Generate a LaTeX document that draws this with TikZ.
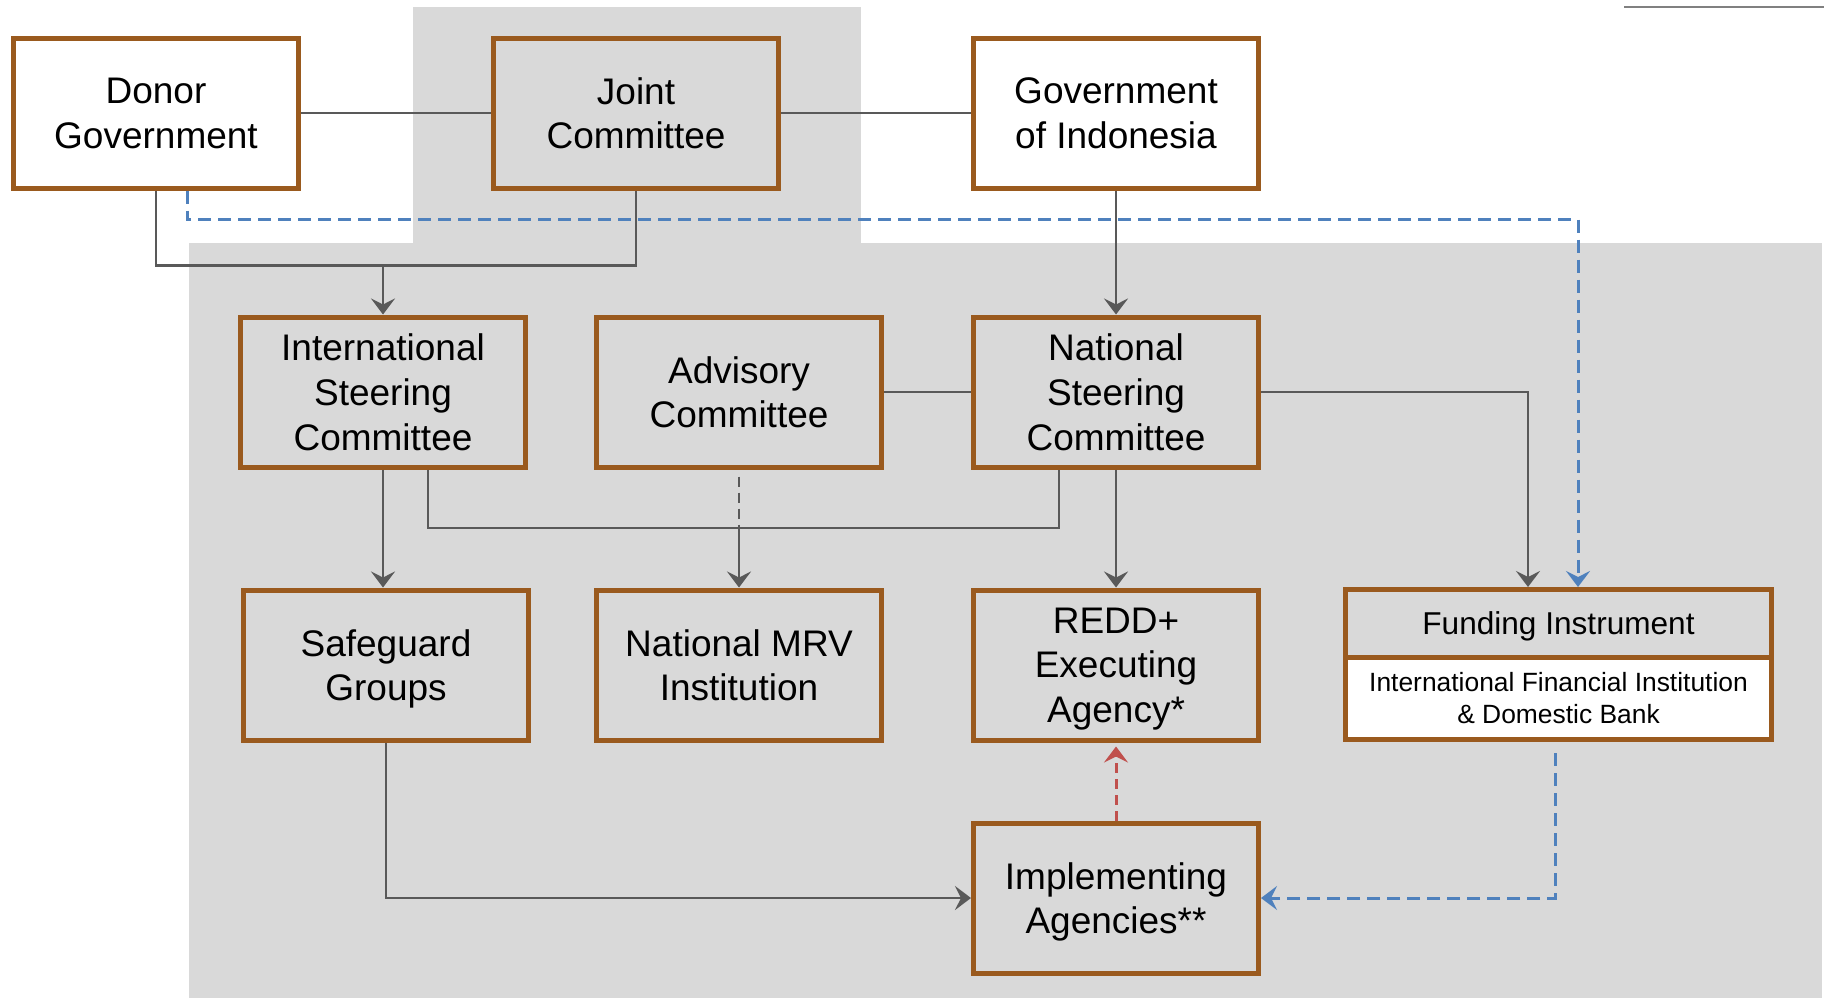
\documentclass[tikz,border=0pt]{standalone}
\usepackage{fontspec}
\setmainfont{Liberation Sans}
\usetikzlibrary{arrows.meta}
\definecolor{brd}{RGB}{154,90,30}
\definecolor{bgg}{RGB}{217,217,217}
\definecolor{cn}{RGB}{89,89,89}
\definecolor{bl}{RGB}{79,129,189}
\definecolor{rd}{RGB}{192,80,77}
\begin{document}
\begin{tikzpicture}[x=0.5pt,y=-0.5pt,
  box/.style={draw=brd, line width=2.5pt, minimum width=142.5pt, minimum height=75pt, align=center, font=\fontsize{18.5}{22.3}\selectfont, inner sep=0pt, text depth=-2pt},
  wbox/.style={box, fill=white},
  gbox/.style={box, fill=bgg},
  tip/.style={-{Stealth[length=8pt,width=12pt,inset=3pt]}},
  conn/.style={draw=cn, line width=1.15pt},
  arr/.style={conn, tip},
  bdash/.style={draw=bl, line width=1.5pt, dash pattern=on 6.5pt off 3.5pt, tip},
  rdash/.style={draw=rd, line width=1.5pt, dash pattern=on 5pt off 3pt, tip},
  gdash/.style={conn, dash pattern=on 5pt off 3pt}
]
\useasboundingbox (0,0) rectangle (1824,998);
% backgrounds
\fill[bgg] (413,7) rectangle (861,243);
\fill[bgg] (189,243) rectangle (1822,998);
\draw[gray, line width=1pt] (1624,7) -- (1824,7);

% nodes
\node[wbox] (donor) at (156,113) {Donor\\Government};
\node[gbox] (joint) at (636,113) {Joint\\Committee};
\node[wbox] (gov) at (1116,113) {Government\\of Indonesia};
\node[gbox] (isc) at (383,392) {International\\Steering\\Committee};
\node[gbox] (adv) at (739,392) {Advisory\\Committee};
\node[gbox] (nsc) at (1116,392) {National\\Steering\\Committee};
\node[gbox] (safe) at (386,665) {Safeguard\\Groups};
\node[gbox] (mrv) at (739,665) {National MRV\\Institution};
\node[gbox] (redd) at (1116,665) {REDD+\\Executing\\Agency*};
\node[gbox] (impl) at (1116,898) {Implementing\\Agencies**};
\node[draw=brd, line width=2.5pt, fill=bgg, minimum width=213pt, minimum height=33.75pt, inner sep=0pt, text depth=-1pt, font=\fontsize{15.8}{19}\selectfont] (fund) at (1558.5,623.25) {Funding Instrument};
\node[draw=brd, line width=2.5pt, fill=white, minimum width=213pt, minimum height=41.25pt, inner sep=0pt, text depth=0pt, align=center, font=\fontsize{13.2}{16}\selectfont] (fib) at (1558.5,698.25) {International Financial Institution\\\& Domestic Bank};

% connectors
\draw[conn] (donor.east) -- (joint.west);
\draw[conn] (joint.east) -- (gov.west);
\coordinate (dj) at (383,267);
\draw[conn] (donor.south) -- ++(0,75) -| (joint.south);
\draw[arr] (dj) -- (isc.north);
\draw[bdash] ([xshift=15.5pt]donor.south) -- ++(0,29) -| ([xshift=9.75pt]fund.north);
\draw[arr] (gov.south) -- (nsc.north);
\draw[conn] (adv.east) -- (nsc.west);
\draw[arr] (nsc.east) -| ([xshift=-15.25pt]fund.north);
\draw[arr] (isc.south) -- (isc.south |- safe.north);
\coordinate (mj) at (739,528);
\draw[conn] ([xshift=22.5pt]isc.south) |- (mj) -| ([xshift=-28.5pt]nsc.south);
\draw[arr] (mj) -- (mrv.north);
\draw[gdash] ([yshift=-3.5pt]adv.south) -- (mj);
\draw[arr] (nsc.south) -- (redd.north);
\draw[rdash] (impl.north) -- ([yshift=-2pt]redd.south);
\draw[arr] (safe.south) |- (impl.west);
\draw[bdash] ([xshift=-1.75pt,yshift=-5.5pt]fib.south) |- (impl.east);
\end{tikzpicture}
\end{document}
